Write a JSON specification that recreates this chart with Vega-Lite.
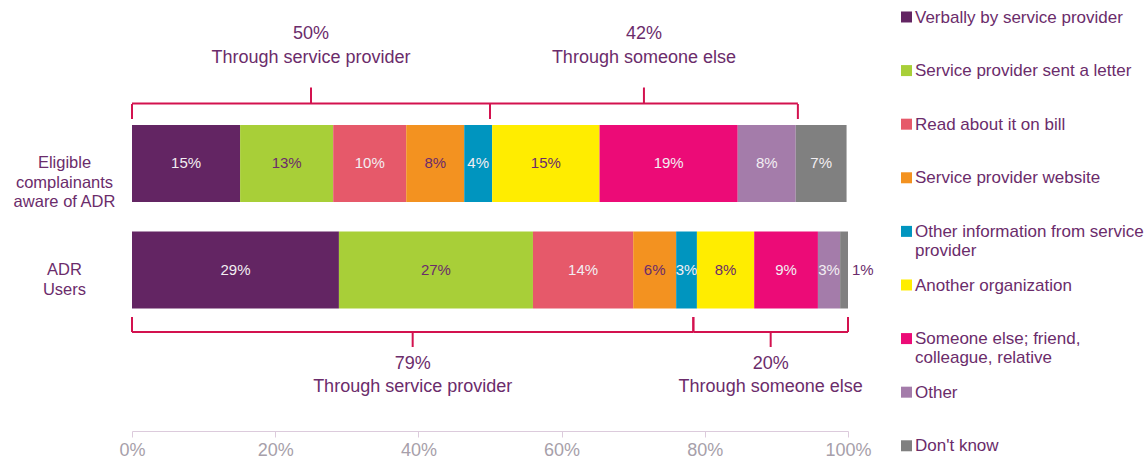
{
  "$schema": "https://vega.github.io/schema/vega-lite/v6.json",
  "width": 716,
  "height": 396.5,
  "autosize": {"type": "none"},
  "padding": {"left": 132, "top": 18.5, "right": 298, "bottom": 50},
  "config": {"font": "Liberation Sans", "view": {"stroke": null}},
  "datasets": {
    "bars": [
      {"group": "Eligible complainants aware of ADR", "source": "Verbally by service provider", "rank": 1, "value": 0.151},
      {"group": "Eligible complainants aware of ADR", "source": "Service provider sent a letter", "rank": 2, "value": 0.130},
      {"group": "Eligible complainants aware of ADR", "source": "Read about it on bill", "rank": 3, "value": 0.102},
      {"group": "Eligible complainants aware of ADR", "source": "Service provider website", "rank": 4, "value": 0.081},
      {"group": "Eligible complainants aware of ADR", "source": "Other information from service provider", "rank": 5, "value": 0.039},
      {"group": "Eligible complainants aware of ADR", "source": "Another organization", "rank": 6, "value": 0.150},
      {"group": "Eligible complainants aware of ADR", "source": "Someone else; friend, colleague, relative", "rank": 7, "value": 0.193},
      {"group": "Eligible complainants aware of ADR", "source": "Other", "rank": 8, "value": 0.081},
      {"group": "Eligible complainants aware of ADR", "source": "Don't know", "rank": 9, "value": 0.071},
      {"group": "ADR Users", "source": "Verbally by service provider", "rank": 1, "value": 0.289},
      {"group": "ADR Users", "source": "Service provider sent a letter", "rank": 2, "value": 0.271},
      {"group": "ADR Users", "source": "Read about it on bill", "rank": 3, "value": 0.140},
      {"group": "ADR Users", "source": "Service provider website", "rank": 4, "value": 0.060},
      {"group": "ADR Users", "source": "Other information from service provider", "rank": 5, "value": 0.029},
      {"group": "ADR Users", "source": "Another organization", "rank": 6, "value": 0.080},
      {"group": "ADR Users", "source": "Someone else; friend, colleague, relative", "rank": 7, "value": 0.089},
      {"group": "ADR Users", "source": "Other", "rank": 8, "value": 0.031},
      {"group": "ADR Users", "source": "Don't know", "rank": 9, "value": 0.011}
    ],
    "braces": [
      {"side": "top", "group": "Eligible complainants aware of ADR", "start": 0, "end": 0.5, "mid": 0.25, "pct": "50%", "caption": "Through service provider"},
      {"side": "top", "group": "Eligible complainants aware of ADR", "start": 0.5, "end": 0.93, "mid": 0.715, "pct": "42%", "caption": "Through someone else"},
      {"side": "bottom", "group": "ADR Users", "start": 0, "end": 0.784, "mid": 0.392, "pct": "79%", "caption": "Through service provider"},
      {"side": "bottom", "group": "ADR Users", "start": 0.784, "end": 1, "mid": 0.892, "pct": "20%", "caption": "Through someone else"}
    ]
  },
  "layer": [
    {
      "data": {"name": "bars"},
      "mark": {"type": "bar"},
      "encoding": {
        "y": {
          "field": "group", "type": "nominal",
          "scale": {"domain": ["Eligible complainants aware of ADR", "ADR Users"], "paddingInner": 0.277, "paddingOuter": 1},
          "axis": {
            "title": null, "ticks": false, "domain": false,
            "labelExpr": "datum.label == 'ADR Users' ? ['ADR','Users'] : ['Eligible','complainants','aware of ADR']",
            "labelAlign": "center", "labelBaseline": "middle", "labelPadding": 68,
            "labelFontSize": 16.5, "labelLineHeight": 19.5, "labelColor": "#6B2C6B", "labelLimit": 300
          }
        },
        "x": {
          "field": "value", "type": "quantitative", "stack": "zero",
          "scale": {"domain": [0, 1], "nice": false},
          "axis": {
            "title": null, "grid": false, "format": ".0%", "values": [0, 0.2, 0.4, 0.6, 0.8, 1],
            "offset": 16,
            "domainColor": "#DCCBDC", "tickColor": "#DCCBDC", "tickSize": 6, "labelFlush": false,
            "labelFontSize": 18, "labelColor": "#A79FAA", "labelPadding": 4
          }
        },
        "color": {
          "field": "source", "type": "nominal",
          "scale": {
            "domain": ["Verbally by service provider", "Service provider sent a letter", "Read about it on bill", "Service provider website", "Other information from service provider", "Another organization", "Someone else; friend, colleague, relative", "Other", "Don't know"],
            "range": ["#632563", "#A8CF38", "#E6596A", "#F39220", "#0095BF", "#FFED00", "#EC0B77", "#A47CAA", "#808080"]
          },
          "legend": {
            "orient": "none", "legendX": 766, "legendY": -17.5, "title": null,
            "symbolType": "M-1,0.36H1V2.36H-1Z", "symbolSize": 121, "symbolStrokeWidth": 0,
            "labelFontSize": 17, "labelColor": "#6B2C6B", "labelBaseline": "top", "labelOffset": 0, "labelLimit": 300,
            "rowPadding": 9.6, "gridAlign": "all", "padding": 0,
            "labelExpr": "datum.label == 'Other information from service provider' ? ['Other information from service','provider'] : datum.label == 'Someone else; friend, colleague, relative' ? ['Someone else; friend,','colleague, relative'] : datum.label"
          }
        },
        "order": {"field": "rank", "type": "quantitative"}
      }
    },
    {
      "data": {"name": "bars"},
      "mark": {"type": "text", "fontSize": 15, "baseline": "middle", "align": "center"},
      "encoding": {
        "y": {"field": "group", "type": "nominal"},
        "x": {"field": "value", "type": "quantitative", "stack": "zero", "bandPosition": 0.5},
        "detail": {"field": "source"},
        "order": {"field": "rank", "type": "quantitative"},
        "text": {"field": "value", "format": ".0%"},
        "opacity": {"condition": {"test": "datum.value < 0.02", "value": 0}, "value": 1},
        "color": {"condition": {"test": "indexof(['Service provider sent a letter','Service provider website','Another organization'], datum.source) >= 0", "value": "#6B2C6B"}, "value": "#F2EEF2"}
      }
    },
    {
      "data": {"name": "bars"},
      "mark": {"type": "text", "fontSize": 15, "baseline": "middle", "align": "left", "dx": 4, "color": "#6B2C6B"},
      "encoding": {
        "y": {"field": "group", "type": "nominal"},
        "x": {"field": "value", "type": "quantitative", "stack": "zero", "bandPosition": 1},
        "detail": {"field": "source"},
        "order": {"field": "rank", "type": "quantitative"},
        "text": {"field": "value", "format": ".0%"},
        "opacity": {"condition": {"test": "datum.value < 0.02", "value": 1}, "value": 0}
      }
    },
    {
      "data": {"name": "braces"},
      "transform": [{"filter": "datum.side == 'top'"}],
      "mark": {"type": "rule", "yOffset": -60, "color": "#D3124F", "strokeWidth": 2},
      "encoding": {
        "y": {"field": "group", "type": "nominal", "bandPosition": 0.5},
        "x": {"field": "start", "type": "quantitative"},
        "x2": {"field": "end"}
      }
    },
    {
      "data": {"name": "braces"},
      "transform": [{"filter": "datum.side == 'bottom'"}],
      "mark": {"type": "rule", "yOffset": 62, "color": "#D3124F", "strokeWidth": 2},
      "encoding": {
        "y": {"field": "group", "type": "nominal", "bandPosition": 0.5},
        "x": {"field": "start", "type": "quantitative"},
        "x2": {"field": "end"}
      }
    },
    {
      "data": {"name": "braces"},
      "transform": [{"filter": "datum.side == 'top'"}, {"fold": ["start", "end"], "as": ["edge", "pos"]}],
      "mark": {"type": "tick", "orient": "vertical", "size": 15, "thickness": 2, "yOffset": -52, "color": "#D3124F", "opacity": 1},
      "encoding": {
        "y": {"field": "group", "type": "nominal"},
        "x": {"field": "pos", "type": "quantitative"}
      }
    },
    {
      "data": {"name": "braces"},
      "transform": [{"filter": "datum.side == 'bottom'"}, {"fold": ["start", "end"], "as": ["edge", "pos"]}],
      "mark": {"type": "tick", "orient": "vertical", "size": 15, "thickness": 2, "yOffset": 54.5, "color": "#D3124F", "opacity": 1},
      "encoding": {
        "y": {"field": "group", "type": "nominal"},
        "x": {"field": "pos", "type": "quantitative"}
      }
    },
    {
      "data": {"name": "braces"},
      "transform": [{"filter": "datum.side == 'top'"}],
      "mark": {"type": "tick", "orient": "vertical", "size": 16, "thickness": 2, "yOffset": -68, "color": "#D3124F", "opacity": 1},
      "encoding": {
        "y": {"field": "group", "type": "nominal"},
        "x": {"field": "mid", "type": "quantitative"}
      }
    },
    {
      "data": {"name": "braces"},
      "transform": [{"filter": "datum.side == 'bottom'"}],
      "mark": {"type": "tick", "orient": "vertical", "size": 15, "thickness": 2, "yOffset": 69.5, "color": "#D3124F", "opacity": 1},
      "encoding": {
        "y": {"field": "group", "type": "nominal"},
        "x": {"field": "mid", "type": "quantitative"}
      }
    },
    {
      "data": {"name": "braces"},
      "transform": [{"filter": "datum.side == 'top'"}],
      "mark": {"type": "text", "fontSize": 18, "color": "#6B2C6B", "baseline": "middle", "align": "center", "yOffset": -129.5},
      "encoding": {
        "y": {"field": "group", "type": "nominal"},
        "x": {"field": "mid", "type": "quantitative"},
        "text": {"field": "pct"}
      }
    },
    {
      "data": {"name": "braces"},
      "transform": [{"filter": "datum.side == 'top'"}],
      "mark": {"type": "text", "fontSize": 18, "color": "#6B2C6B", "baseline": "middle", "align": "center", "yOffset": -105},
      "encoding": {
        "y": {"field": "group", "type": "nominal"},
        "x": {"field": "mid", "type": "quantitative"},
        "text": {"field": "caption"}
      }
    },
    {
      "data": {"name": "braces"},
      "transform": [{"filter": "datum.side == 'bottom'"}],
      "mark": {"type": "text", "fontSize": 18, "color": "#6B2C6B", "baseline": "middle", "align": "center", "yOffset": 93.5},
      "encoding": {
        "y": {"field": "group", "type": "nominal"},
        "x": {"field": "mid", "type": "quantitative"},
        "text": {"field": "pct"}
      }
    },
    {
      "data": {"name": "braces"},
      "transform": [{"filter": "datum.side == 'bottom'"}],
      "mark": {"type": "text", "fontSize": 18, "color": "#6B2C6B", "baseline": "middle", "align": "center", "yOffset": 116.5},
      "encoding": {
        "y": {"field": "group", "type": "nominal"},
        "x": {"field": "mid", "type": "quantitative"},
        "text": {"field": "caption"}
      }
    }
  ]
}
